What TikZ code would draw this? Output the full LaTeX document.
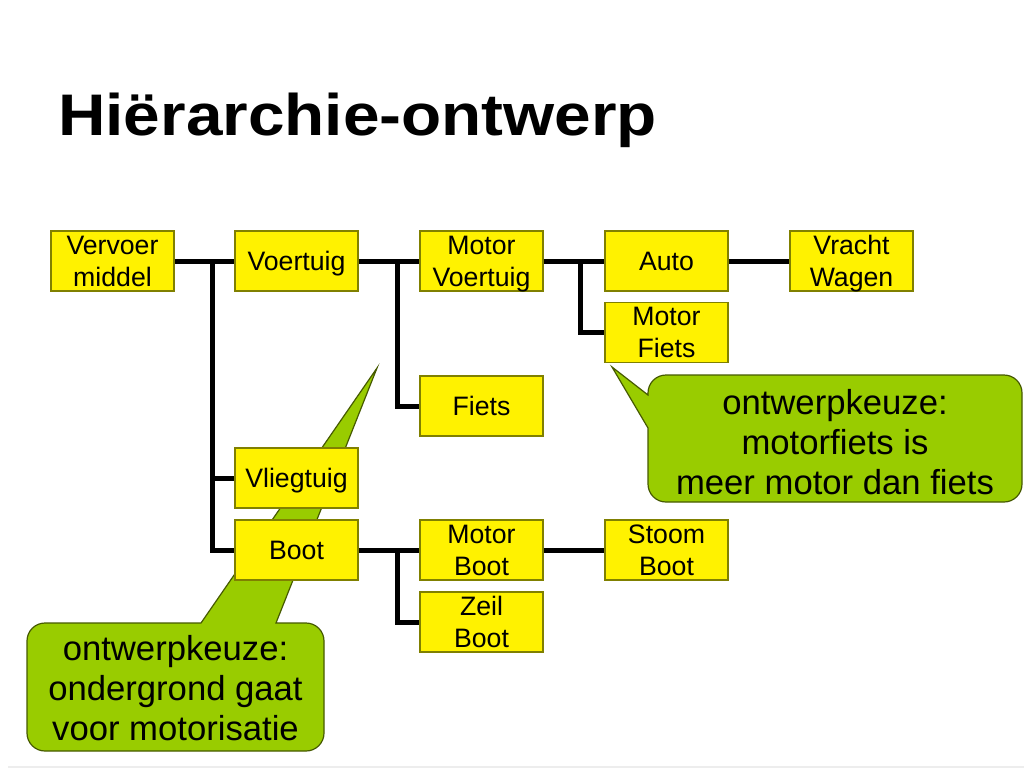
\documentclass[tikz,border=0pt]{standalone}
\usepackage{fontspec}
\setmainfont{Liberation Sans}
\definecolor{boxedge}{RGB}{128,128,0}
\definecolor{callgreen}{RGB}{153,204,0}
\definecolor{calledge}{RGB}{70,90,0}
\begin{document}
\begin{tikzpicture}[x=0.75pt,y=-0.75pt,
  box/.style={draw=boxedge,line width=0.9pt,fill=yellow,minimum width=92.25pt,minimum height=45pt,
    inner sep=0pt,align=center,font=\fontsize{20}{24}\selectfont,text depth=0pt},
  link/.style={line width=3.75pt,line join=miter},
  callout/.style={fill=callgreen,draw=calledge,line width=0.9pt},
  calltext/.style={align=center,inner sep=0pt,font=\fontsize{26}{30}\selectfont,text depth=0pt}]
\useasboundingbox (0,0) rectangle (1024,768);
\fill[white] (0,0) rectangle (1024,768);
\fill[black!7] (8,766) rectangle (1024,768);
% title
\node[anchor=base west,inner sep=0pt,font=\fontsize{44}{50}\selectfont\bfseries] (title) at (58,135)
  {\scalebox{1.12}[1]{Hiërarchie-ontwerp}};
% callout shapes
\draw[callout] (201,623) -- (377,368) -- (276,623) [rounded corners=13.5pt] -- (324,623)
  -- (324,751) -- (27,751) -- (27,623) [sharp corners] -- cycle;
\draw[callout] (648,428) -- (612,367) -- (648,395) [rounded corners=13.5pt] -- (648,375)
  -- (1022,375) -- (1022,502) -- (648,502) [sharp corners] -- cycle;
% junctions
\coordinate (j1) at (212,261);
\coordinate (j2) at (397,261);
\coordinate (j3) at (580,261);
\coordinate (j4) at (397,550);
% boxes
\node[box] (vm) at (112.5,261) {Vervoer\\middel};
\node[box] (vt) at (296.5,261) {Voertuig};
\node[box] (mv) at (481.5,261) {Motor\\Voertuig};
\node[box] (au) at (666.5,261) {Auto};
\node[box] (vw) at (851.5,261) {Vracht\\Wagen};
\node[box] (mf) at (666.5,332.5) {Motor\\Fiets};
\node[box] (fi) at (481.5,406) {Fiets};
\node[box] (vl) at (296.5,478) {Vliegtuig};
\node[box] (bo) at (296.5,550) {Boot};
\node[box] (mb) at (481.5,550) {Motor\\Boot};
\node[box] (sb) at (666.5,550) {Stoom\\Boot};
\node[box] (zb) at (481.5,622) {Zeil\\Boot};
% connectors
\draw[link] (vm.east) -- (vt.west);
\draw[link] (j1) |- (vl.west);
\draw[link] (j1) |- (bo.west);
\draw[link] (vt.east) -- (mv.west);
\draw[link] (j2) |- (fi.west);
\draw[link] (mv.east) -- (au.west);
\draw[link] (j3) |- (mf.west);
\draw[link] (au.east) -- (vw.west);
\draw[link] (bo.east) -- (mb.west);
\draw[link] (j4) |- (zb.west);
\draw[link] (mb.east) -- (sb.west);
% callout texts
\node[calltext] (c1) at (175.5,688) {ontwerpkeuze:\\ondergrond gaat\\voor motorisatie};
\node[calltext] (c2) at (835,442) {ontwerpkeuze:\\motorfiets is\\meer motor dan fiets};
\end{tikzpicture}
\end{document}
